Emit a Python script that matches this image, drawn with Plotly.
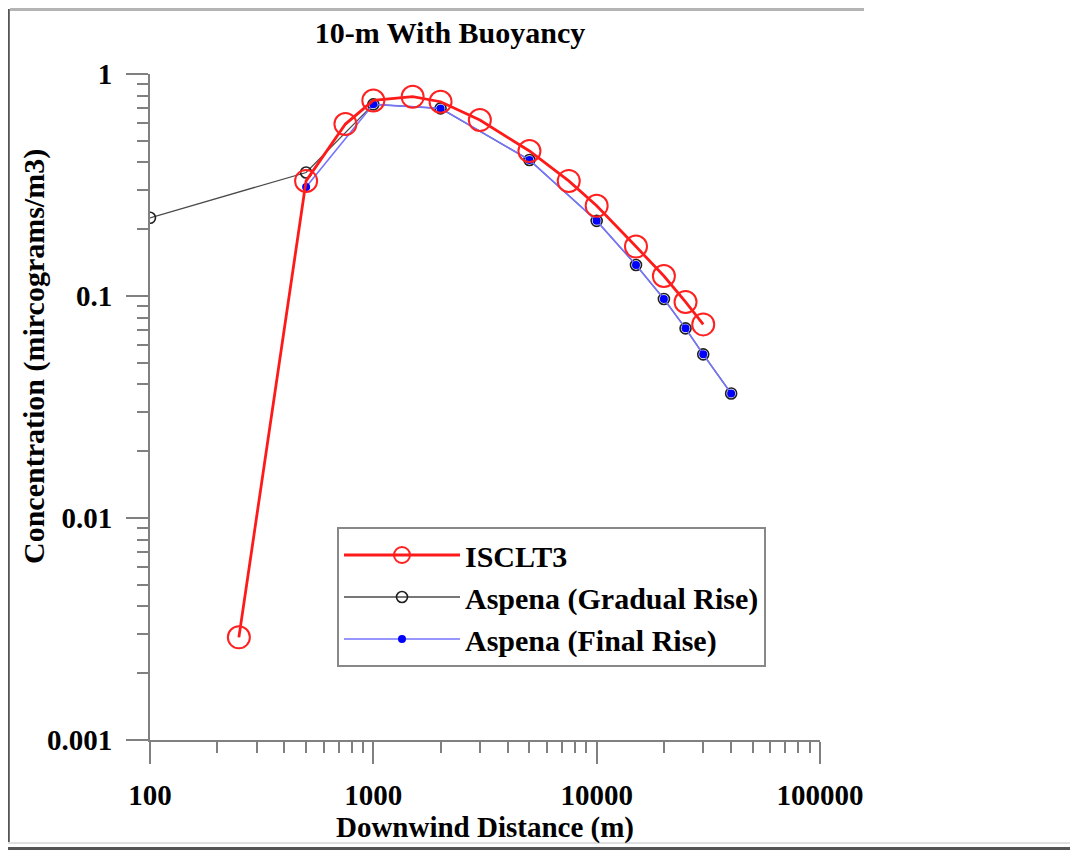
import plotly.graph_objects as go

# ---- data ----
isc_x = [250, 500, 750, 1000, 1500, 2000, 3000, 5000, 7500, 10000, 15000, 20000, 25000, 30000]
isc_y = [0.0029, 0.33, 0.595, 0.76, 0.79, 0.75, 0.62, 0.45, 0.33, 0.255, 0.167, 0.123, 0.094, 0.0745]

grad_x = [100, 500, 1000, 2000, 5000, 10000, 15000, 20000, 25000, 30000, 40000]
grad_y = [0.225, 0.36, 0.73, 0.70, 0.41, 0.218, 0.138, 0.097, 0.0715, 0.0546, 0.0364]

final_x = [500, 1000, 2000, 5000, 10000, 15000, 20000, 25000, 30000, 40000]
final_y = [0.31, 0.73, 0.70, 0.41, 0.218, 0.138, 0.097, 0.0715, 0.0546, 0.0364]

x_ticks = [100, 1000, 10000, 100000]
x_tick_text = ["100", "1000", "10000", "100000"]
y_ticks = [1, 0.1, 0.01, 0.001]
y_tick_text = ["1", "0.1", "0.01", "0.001"]

FONT = "Liberation Serif"
AX = "#808080"

# the page body adds an 8px margin; geometry below is in page pixels
OFF = 8
W, H = 1078 - OFF, 850 - OFF
L, R, T, B = 150 - OFF, 820 - OFF, 74 - OFF, 740 - OFF


def px(x):
    return (x - OFF - L) / (R - L)


def py(y):
    return (B - (y - OFF)) / (B - T)


fig = go.Figure()

fig.add_trace(go.Scatter(
    x=grad_x, y=grad_y, name="Aspena (Gradual Rise)", mode="lines+markers",
    line=dict(color="#4a4a4a", width=1.3),
    marker=dict(symbol="circle-open", size=11, color="#202020", line=dict(width=1.6)),
    legendrank=2, legendgroup="g2",
))
fig.add_trace(go.Scatter(
    x=final_x, y=final_y, name="Aspena (Final Rise)", mode="lines+markers",
    line=dict(color="#7474ff", width=1.6),
    marker=dict(symbol="circle", size=8, color="#0000ff"),
    legendrank=3, legendgroup="g3",
))
fig.add_trace(go.Scatter(
    x=isc_x, y=isc_y, name="ISCLT3", mode="lines+markers",
    line=dict(color="#ff1a1a", width=2.8),
    marker=dict(symbol="circle-open", size=22, color="#ff2020", line=dict(width=2)),
    legendrank=1, legendgroup="g1",
))

tick_font = dict(family=FONT, size=29, color="black", weight="bold")

fig.update_xaxes(
    type="log", range=[2, 5],
    tickvals=x_ticks, ticktext=x_tick_text,
    showgrid=False, zeroline=False,
    showline=True, linecolor=AX, linewidth=2,
    ticks="outside", ticklen=22, tickwidth=2, tickcolor=AX,
    ticklabelstandoff=6,
    tickfont=tick_font,
    minor=dict(ticks="outside", ticklen=11, tickwidth=1.5, tickcolor=AX, dtick="D1", showgrid=False),
    title=dict(text="Downwind Distance (m)", font=dict(family=FONT, size=29, color="black", weight="bold"), standoff=4),
)
fig.update_yaxes(
    type="log", range=[-3, 0],
    tickvals=y_ticks, ticktext=y_tick_text,
    showgrid=False, zeroline=False,
    showline=True, linecolor=AX, linewidth=2,
    ticks="outside", ticklen=22, tickwidth=2, tickcolor=AX,
    ticklabelstandoff=8,
    tickfont=tick_font,
    minor=dict(ticks="outside", ticklen=11, tickwidth=1.5, tickcolor=AX, dtick="D1", showgrid=False),
)

# page frame decoration (screenshot border)
shapes = [
    dict(type="line", xref="paper", yref="paper", x0=px(10), x1=px(864), y0=py(9.5), y1=py(9.5),
         line=dict(color="#b4b4b4", width=3)),
    dict(type="line", xref="paper", yref="paper", x0=px(8.8), x1=px(8.8), y0=py(9), y1=py(843),
         line=dict(color="#555555", width=2)),
    dict(type="line", xref="paper", yref="paper", x0=px(8), x1=px(1078), y0=py(843), y1=py(843),
         line=dict(color="#e0e0e0", width=2)),
    dict(type="line", xref="paper", yref="paper", x0=px(8), x1=px(1078), y0=py(848.5), y1=py(848.5),
         line=dict(color="#555555", width=3)),
]

fig.update_layout(
    width=W, height=H,
    margin=dict(l=L, r=W - R, t=T, b=H - B, autoexpand=False),
    paper_bgcolor="white", plot_bgcolor="white",
    title=dict(text="10-m With Buoyancy", x=px(450), xref="paper", xanchor="center",
               y=1 - (32 - OFF) / H, yanchor="middle",
               font=dict(family=FONT, size=30, color="black", weight="bold")),
    showlegend=True,
    legend=dict(
        x=px(337), y=py(527), xanchor="left", yanchor="top",
        bordercolor="#888888", borderwidth=2, bgcolor="white",
        font=dict(family=FONT, size=30, color="black", weight="bold"),
        traceorder="grouped", tracegroupgap=0, itemwidth=116,
    ),
    annotations=[dict(
        text="Concentration (mircograms/m3)", textangle=-90,
        xref="paper", yref="paper", x=px(34), y=py(357), xanchor="center", yanchor="middle",
        showarrow=False, font=dict(family=FONT, size=30, color="black", weight="bold"),
    )],
    shapes=shapes,
)

fig.write_html("out.html")
